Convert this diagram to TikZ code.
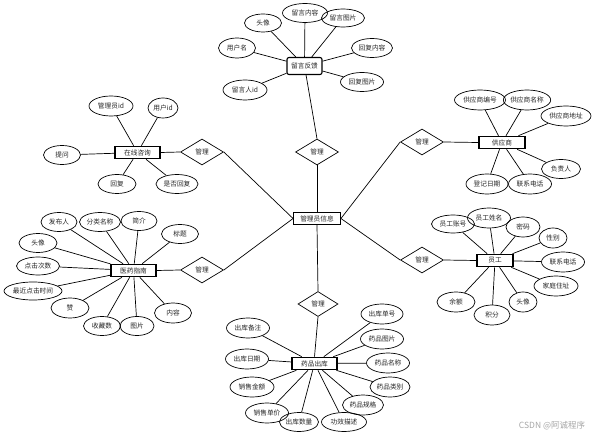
\documentclass[tikz,border=0pt]{standalone}
\usepackage{fontspec}
\newfontfamily\cjk{Noto Sans CJK SC}
\usetikzlibrary{shapes.geometric}
\begin{document}
\begin{tikzpicture}[x=1pt,y=-1pt,
  every node/.style={font=\cjk\fontsize{6.7}{8}\selectfont, text=black!85},
  attr/.style={ellipse, draw, line width=0.7pt, inner sep=0pt, minimum height=19pt},
  ent/.style={rectangle, draw, line width=1.1pt, inner sep=0pt, minimum height=12.5pt},
  rel/.style={diamond, draw, line width=0.7pt, inner sep=0pt, minimum width=43pt, minimum height=26pt, aspect=1.65},
  lnk/.style={line width=0.7pt}]
\useasboundingbox (0,0) rectangle (607,438);

% central
\node[ent, minimum width=47pt, line width=0.9pt] (C) at (317,218.5) {管理员信息};
% relationships
\node[rel] (R1) at (317,152) {管理};
\node[rel] (R2) at (202,152) {管理};
\node[rel] (R3) at (202,270) {管理};
\node[rel] (R4) at (422,142) {管理};
\node[rel] (R5) at (422,260) {管理};
\node[rel, minimum width=40pt, minimum height=25pt] (R6) at (318,304) {管理};

% entities
\node[ent, minimum width=35pt, minimum height=17pt, rounded corners=2pt] (E1) at (304.5,66) {留言反馈};
\node[ent, minimum width=45pt] (E2) at (137.5,152.5) {在线咨询};
\node[ent, minimum width=45pt] (E3) at (133.5,270.5) {医药指南};
\node[ent, minimum width=46pt] (E4) at (502,142.5) {供应商};
\node[ent, minimum width=36pt] (E5) at (495,260.5) {员工};
\node[ent, minimum width=45pt] (E6) at (314.5,363.5) {药品出库};

% central links
\draw[lnk] (C.north) -- (R1.south);
\draw[lnk] (R1.north) -- (E1);
\draw[lnk] (C.west) -- (R2.east);
\draw[lnk] (R2.west) -- (E2.east);
\draw[lnk] (C.west) -- (R3.east);
\draw[lnk] (R3.west) -- (E3.east);
\draw[lnk] (C.east) -- (R4.west);
\draw[lnk] (R4.east) -- (E4.west);
\draw[lnk] (C.east) -- (R5.west);
\draw[lnk] (R5.east) -- (E5.west);
\draw[lnk] (C.south) -- (R6.north);
\draw[lnk] (R6.south) -- (E6.north);

% 留言反馈 attributes
\node[attr, minimum width=37pt, minimum height=18pt] (a11) at (263,23) {头像};
\node[attr, minimum width=45pt] (a12) at (305,13) {留言内容};
\node[attr, minimum width=43pt, minimum height=18pt] (a13) at (343,18) {留言图片};
\node[attr, minimum width=37pt, minimum height=20pt] (a14) at (237,48) {用户名};
\node[attr, minimum width=41pt] (a15) at (372,48) {回复内容};
\node[attr, minimum width=43pt] (a16) at (362,82) {回复图片};
\node[attr, minimum width=44pt, minimum height=20pt] (a17) at (245,90) {留言人id};
\foreach \n in {a11,a12,a13,a14,a15,a16,a17} \draw[lnk] (\n) -- (E1);

% 在线咨询 attributes
\node[attr, minimum width=44pt, minimum height=20pt] (a21) at (111,106) {管理员id};
\node[attr, minimum width=30pt, minimum height=20pt] (a22) at (163,108) {用户id};
\node[attr, minimum width=37pt] (a23) at (62,155) {提问};
\node[attr, minimum width=38pt] (a24) at (117,184) {回复};
\node[attr, minimum width=42pt] (a25) at (177,184) {是否回复};
\foreach \n in {a21,a22,a23,a24,a25} \draw[lnk] (\n) -- (E2);

% 医药指南 attributes
\node[attr, minimum width=36pt] (a31) at (59,222) {发布人};
\node[attr, minimum width=41pt] (a32) at (100,222) {分类名称};
\node[attr, minimum width=36pt] (a33) at (139,221) {简介};
\node[attr, minimum width=37pt] (a34) at (180,234) {标题};
\node[attr, minimum width=38pt] (a35) at (38,243) {头像};
\node[attr, minimum width=43pt, minimum height=18pt] (a36) at (38,266) {点击次数};
\node[attr, minimum width=58pt, minimum height=18pt] (a37) at (33,291) {最近点击时间};
\node[attr, minimum width=38pt, minimum height=20pt] (a38) at (70,308) {赞};
\node[attr, minimum width=37pt] (a39) at (102,326) {收藏数};
\node[attr, minimum width=34pt] (a3a) at (137,326) {图片};
\node[attr, minimum width=37pt, minimum height=20pt] (a3b) at (173,313) {内容};
\foreach \n in {a31,a32,a33,a34,a35,a36,a37,a38,a39,a3a,a3b} \draw[lnk] (\n) -- (E3);

% 供应商 attributes
\node[attr, minimum width=51pt, minimum height=20pt] (a41) at (480,100) {供应商编号};
\node[attr, minimum width=43pt, minimum height=20pt] (a42) at (527,100) {供应商名称};
\node[attr, minimum width=50pt, minimum height=20pt] (a43) at (566,116) {供应商地址};
\node[attr, minimum width=39pt] (a44) at (561,169) {负责人};
\node[attr, minimum width=42pt, minimum height=20pt] (a45) at (487,184) {登记日期};
\node[attr, minimum width=43pt, minimum height=20pt] (a46) at (530,184) {联系电话};
\foreach \n in {a41,a42,a43,a44,a45,a46} \draw[lnk] (\n) -- (E4);

% 员工 attributes
\node[attr, minimum width=43pt, minimum height=18pt] (a51) at (453,224) {员工账号};
\node[attr, minimum width=43pt, minimum height=20pt] (a52) at (489,218) {员工姓名};
\node[attr, minimum width=34pt, minimum height=20pt] (a53) at (523,227) {密码};
\node[attr, minimum width=28pt, minimum height=20pt] (a54) at (553,238) {性别};
\node[attr, minimum width=43pt, minimum height=20pt] (a55) at (563,262) {联系电话};
\node[attr, minimum width=44pt, minimum height=20pt] (a56) at (556,286) {家庭住址};
\node[attr, minimum width=28pt, minimum height=20pt] (a57) at (523,302) {头像};
\node[attr, minimum width=36pt, minimum height=20pt] (a58) at (492,315) {积分};
\node[attr, minimum width=38pt, minimum height=20pt] (a59) at (456,302) {余额};
\foreach \n in {a51,a52,a53,a54,a55,a56,a57,a58,a59} \draw[lnk] (\n) -- (E5);

% 药品出库 attributes
\node[attr, minimum width=43pt, minimum height=20pt] (a61) at (248,328) {出库备注};
\node[attr, minimum width=43pt, minimum height=20pt] (a62) at (247,359) {出库日期};
\node[attr, minimum width=44pt, minimum height=20pt] (a63) at (252,387) {销售金额};
\node[attr, minimum width=43pt, minimum height=20pt] (a64) at (267,413) {销售单价};
\node[attr, minimum width=39pt] (a65) at (299,422) {出库数量};
\node[attr, minimum width=45pt] (a66) at (344,422) {功效描述};
\node[attr, minimum width=41pt, minimum height=20pt] (a67) at (363,405) {药品规格};
\node[attr, minimum width=40pt, minimum height=20pt] (a68) at (390,387) {药品类别};
\node[attr, minimum width=43pt, minimum height=20pt] (a69) at (388,363) {药品名称};
\node[attr, minimum width=43pt, minimum height=20pt] (a6a) at (382,339) {药品图片};
\node[attr, minimum width=42pt, minimum height=20pt] (a6b) at (382,314) {出库单号};
\foreach \n in {a61,a62,a63,a64,a65,a66,a67,a68,a69,a6a,a6b} \draw[lnk] (\n) -- (E6);

% watermark
\node[font=\cjk\fontsize{8.5}{10}\selectfont, text=black!35] (wm) at (552,426) {CSDN @阿诚程序};
\end{tikzpicture}
\end{document}
